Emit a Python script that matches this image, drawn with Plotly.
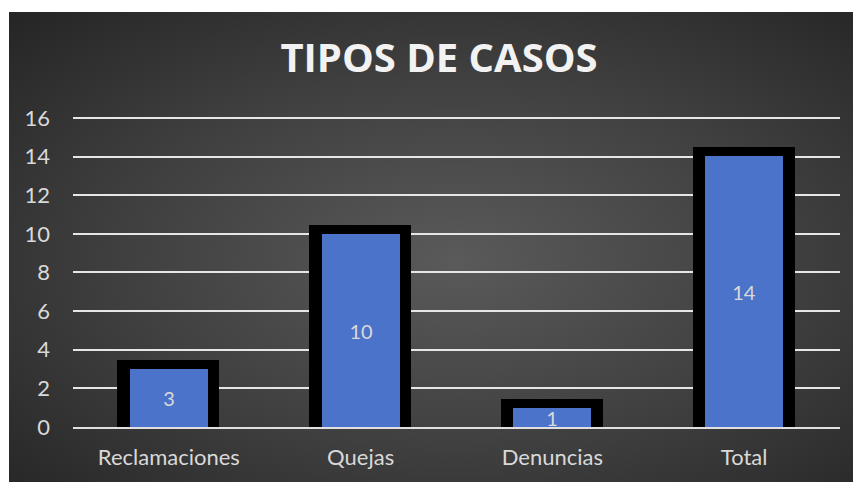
import base64
import plotly.graph_objects as go

categories = ["Reclamaciones", "Quejas", "Denuncias", "Total"]
values = [3, 10, 1, 14]
y_ticks = [0, 2, 4, 6, 8, 10, 12, 14, 16]
title_text = "TIPOS DE CASOS"

W, H = 861, 482
OFF = 8  # page body margin offset

svg = (
    '<svg xmlns="http://www.w3.org/2000/svg" width="852" height="470" '
    'viewBox="0 0 852 470" preserveAspectRatio="none">'
    '<defs><radialGradient id="g" cx="52%" cy="52%" r="72%">'
    '<stop offset="0" stop-color="#5a5a5a"/>'
    '<stop offset="0.55" stop-color="#3f3f3f"/>'
    '<stop offset="1" stop-color="#262626"/>'
    '</radialGradient></defs>'
    '<rect x="0" y="0" width="852" height="470" fill="url(#g)"/></svg>'
)
bg_uri = "data:image/svg+xml;base64," + base64.b64encode(svg.encode()).decode()


def px(x):
    return (x - OFF) / W


def py(y):
    return 1 - (y - OFF) / H


fig = go.Figure()

# black frame behind
fig.add_trace(go.Bar(
    x=categories, y=values, width=0.443,
    marker=dict(color="#000000", line=dict(color="#000000", width=17)),
    hoverinfo="skip", showlegend=False,
))
# blue fill
fig.add_trace(go.Bar(
    x=categories, y=values, width=0.407,
    marker=dict(color="#4a73c9", line=dict(width=0)),
    text=[str(v) for v in values],
    textposition="inside", insidetextanchor="middle", textangle=0,
    textfont=dict(family="Lato", size=20, color="#d9d9d9"),
    showlegend=False,
))

fig.update_layout(
    width=W, height=H,
    margin=dict(l=0, r=0, t=0, b=0, autoexpand=False),
    paper_bgcolor="#ffffff",
    plot_bgcolor="rgba(0,0,0,0)",
    barmode="overlay",
    bargap=0,
    uniformtext=dict(minsize=19, mode="show"),
    title=dict(
        text=title_text, x=px(439), y=py(58), xanchor="center", yanchor="middle",
        font=dict(family="Open Sans", size=40, color="#f2f2f2", weight="bold"),
        automargin=False,
    ),
    images=[dict(
        source=bg_uri, xref="paper", yref="paper",
        x=px(9), y=py(12), sizex=1 - px(9), sizey=py(12),
        xanchor="left", yanchor="top", sizing="stretch", layer="below",
    )],
    xaxis=dict(
        domain=[px(73), px(840)],
        showgrid=False, zeroline=False, automargin=False,
        showline=True, linecolor="#e0e0e0", linewidth=2, layer="above traces",
        tickfont=dict(family="Lato", size=22, color="#d9d9d9"),
        ticks="", ticklabelstandoff=10,
        fixedrange=True,
    ),
    yaxis=dict(
        domain=[py(427), py(114.1)],
        range=[0, 16.2], tickvals=y_ticks,
        showgrid=True, gridcolor="#e6e6e6", gridwidth=2,
        zeroline=False, showline=False, automargin=False,
        tickfont=dict(family="Lato", size=22, color="#d9d9d9"),
        ticks="", ticklabelstandoff=22,
        fixedrange=True,
    ),
)

fig.write_html("out.html")
